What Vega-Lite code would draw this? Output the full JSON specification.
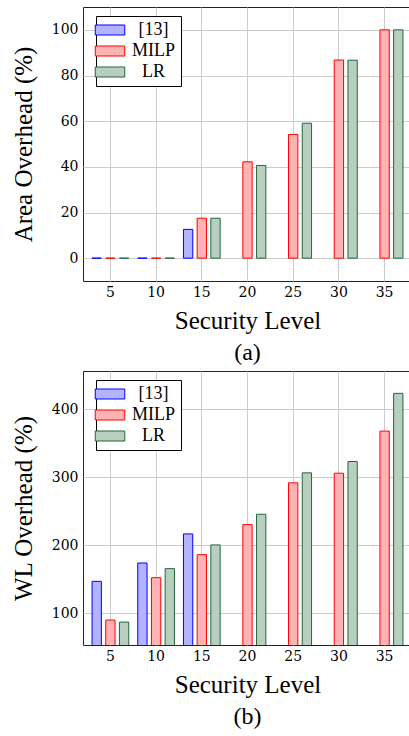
{
  "$schema": "https://vega.github.io/schema/vega-lite/v6.json",
  "padding": {"left": 10, "top": 6, "right": 0, "bottom": 0},
  "spacing": 4,
  "datasets": {
    "area": [
      {"level": 5, "method": "[13]", "value": 0},
      {"level": 10, "method": "[13]", "value": 0},
      {"level": 15, "method": "[13]", "value": 12.6},
      {"level": 5, "method": "MILP", "value": 0},
      {"level": 10, "method": "MILP", "value": 0},
      {"level": 15, "method": "MILP", "value": 17.5},
      {"level": 20, "method": "MILP", "value": 42.2},
      {"level": 25, "method": "MILP", "value": 54.2},
      {"level": 30, "method": "MILP", "value": 86.8},
      {"level": 35, "method": "MILP", "value": 100},
      {"level": 5, "method": "LR", "value": 0},
      {"level": 10, "method": "LR", "value": 0},
      {"level": 15, "method": "LR", "value": 17.5},
      {"level": 20, "method": "LR", "value": 40.6},
      {"level": 25, "method": "LR", "value": 59.1},
      {"level": 30, "method": "LR", "value": 86.7},
      {"level": 35, "method": "LR", "value": 100}
    ],
    "wl": [
      {"level": 5, "method": "[13]", "value": 146.6},
      {"level": 10, "method": "[13]", "value": 173.6},
      {"level": 15, "method": "[13]", "value": 216.4},
      {"level": 5, "method": "MILP", "value": 89.7},
      {"level": 10, "method": "MILP", "value": 152},
      {"level": 15, "method": "MILP", "value": 185.9},
      {"level": 20, "method": "MILP", "value": 230.1},
      {"level": 25, "method": "MILP", "value": 291.5},
      {"level": 30, "method": "MILP", "value": 305.7},
      {"level": 35, "method": "MILP", "value": 367.6},
      {"level": 5, "method": "LR", "value": 86.7},
      {"level": 10, "method": "LR", "value": 165.3},
      {"level": 15, "method": "LR", "value": 200.2},
      {"level": 20, "method": "LR", "value": 245.3},
      {"level": 25, "method": "LR", "value": 306.2},
      {"level": 30, "method": "LR", "value": 322.9},
      {"level": 35, "method": "LR", "value": 423.1}
    ]
  },
  "vconcat": [
    {
      "width": 329,
      "height": 274,
      "data": {"name": "area"},
      "title": {"text": "(a)", "orient": "bottom", "frame": "group", "anchor": "middle", "offset": 8},
      "mark": {"type": "bar", "strokeWidth": 1, "clip": true},
      "encoding": {
        "x": {"field": "level", "type": "ordinal", "title": "Security Level",
              "scale": {"paddingInner": 0.197, "paddingOuter": 0.198}},
        "xOffset": {"field": "method", "type": "nominal", "sort": ["[13]", "MILP", "LR"],
                    "scale": {"domain": ["[13]", "MILP", "LR"], "paddingInner": 0.32, "paddingOuter": 0}},
        "y": {"field": "value", "type": "quantitative", "title": "Area Overhead (%)",
              "scale": {"domain": [-10, 110], "zero": true, "nice": false},
              "axis": {"values": [0, 20, 40, 60, 80, 100]}},
        "fill": {"field": "method", "type": "nominal",
                 "scale": {"domain": ["[13]", "MILP", "LR"], "range": ["#b3b3ff", "#ffb3b3", "#b8cfbf"]},
                 "legend": {"title": null}},
        "stroke": {"field": "method", "type": "nominal",
                   "scale": {"domain": ["[13]", "MILP", "LR"], "range": ["#0000ff", "#ff0000", "#22683a"]},
                   "legend": {"title": null}}
      }
    },
    {
      "width": 329,
      "height": 274,
      "data": {"name": "wl"},
      "title": {"text": "(b)", "orient": "bottom", "frame": "group", "anchor": "middle", "offset": 8},
      "mark": {"type": "bar", "strokeWidth": 1, "clip": true},
      "encoding": {
        "x": {"field": "level", "type": "ordinal", "title": "Security Level",
              "scale": {"paddingInner": 0.197, "paddingOuter": 0.198}},
        "xOffset": {"field": "method", "type": "nominal", "sort": ["[13]", "MILP", "LR"],
                    "scale": {"domain": ["[13]", "MILP", "LR"], "paddingInner": 0.32, "paddingOuter": 0}},
        "y": {"field": "value", "type": "quantitative", "title": "WL Overhead (%)",
              "scale": {"domain": [53, 456], "zero": false, "nice": false},
              "axis": {"values": [100, 200, 300, 400]}},
        "fill": {"field": "method", "type": "nominal",
                 "scale": {"domain": ["[13]", "MILP", "LR"], "range": ["#b3b3ff", "#ffb3b3", "#b8cfbf"]},
                 "legend": {"title": null}},
        "stroke": {"field": "method", "type": "nominal",
                   "scale": {"domain": ["[13]", "MILP", "LR"], "range": ["#0000ff", "#ff0000", "#22683a"]},
                   "legend": {"title": null}}
      }
    }
  ],
  "resolve": {"scale": {"fill": "independent", "stroke": "independent"}, "legend": {"fill": "independent", "stroke": "independent"}},
  "config": {
    "font": "Liberation Serif",
    "view": {"stroke": "#222222", "strokeWidth": 1},
    "title": {"font": "Liberation Serif", "fontSize": 24, "fontWeight": "normal", "color": "black"},
    "axis": {
      "labelFont": "DejaVu Serif", "labelFontSize": 14, "labelColor": "black",
      "titleFont": "Liberation Serif", "titleFontSize": 25, "titleFontWeight": "normal", "titleColor": "black",
      "grid": true, "gridColor": "#cccccc", "gridWidth": 1,
      "domain": false, "ticks": false
    },
    "axisX": {"labelAngle": 0, "labelPadding": 4, "titlePadding": 9, "bandPosition": 0.5},
    "axisY": {"labelPadding": 5, "titlePadding": 17, "minExtent": 30, "maxExtent": 30},
    "legend": {
      "orient": "none", "legendX": 13, "legendY": 9,
      "symbolType": "M-2.95,-1H2.95V1H-2.95Z", "symbolSize": 100, "symbolStrokeWidth": 1,
      "labelFont": "Liberation Serif", "labelFontSize": 18, "labelColor": "black",
      "labelAlign": "center", "labelOffset": 34.5,
      "rowPadding": 3, "padding": 5,
      "strokeColor": "black", "fillColor": "white"
    }
  }
}
